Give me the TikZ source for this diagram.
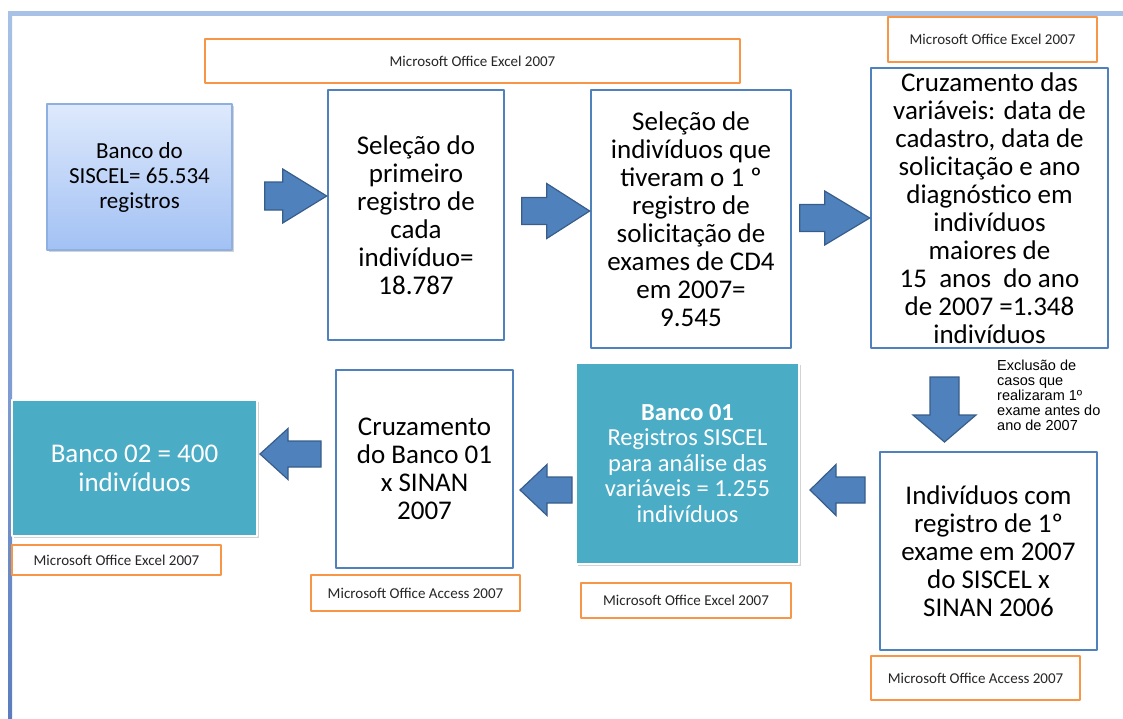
\documentclass[tikz,border=0pt]{standalone}
\usepackage{fontspec}
\setmainfont{Carlito}
\newfontfamily\arialfont{Liberation Sans}
\usetikzlibrary{shadows}
\definecolor{boxblue}{RGB}{79,129,189}
\definecolor{arrowline}{RGB}{56,93,138}
\definecolor{progorange}{RGB}{247,150,70}
\definecolor{bancoteal}{RGB}{75,172,198}
\definecolor{frametop}{RGB}{168,193,230}
\definecolor{frameleft}{RGB}{91,125,191}
\definecolor{siscelborder}{RGB}{141,176,224}
\definecolor{siscelup}{RGB}{222,233,252}
\definecolor{sisceldown}{RGB}{162,193,244}
\tikzset{
  stepbox/.style={draw=boxblue,line width=2.6pt,fill=white,align=center,inner sep=0pt,font=\fontsize{27}{28}\selectfont},
  bancobox/.style={fill=bancoteal,draw=white,line width=2pt,text=white,align=center,inner sep=0pt,
    drop shadow={shadow xshift=2pt,shadow yshift=-2pt,opacity=.35}},
  progbox/.style={draw=progorange,line width=2.8pt,fill=white,inner sep=0pt,text=black!85,font=\fontsize{15}{16}\selectfont},
  blockarrow/.style={fill=boxblue,draw=arrowline,line width=1.2pt,line join=miter}
}
% #1 rotation, #2 tip, #3 length, #4 head length, #5 head half width, #6 shaft half width
\newcommand{\blockarrow}[6][0]{%
  \draw[blockarrow,shift={#2},rotate=#1] (0,0) -- (-#4,#5) -- (-#4,#6) -- (-#3,#6)
    -- (-#3,-#6) -- (-#4,-#6) -- (-#4,-#5) -- cycle;}
\begin{document}
\begin{tikzpicture}[x=1pt,y=-1pt,line join=round]
\useasboundingbox (0,0) rectangle (1123,718);
% moldura
\fill[frametop] (8,11) rectangle (1123,16);
\shade[top color=frametop,bottom color=frameleft] (8,11) rectangle (12,718);
% linha de cima
\node[draw=siscelborder,line width=1.2pt,top color=siscelup,bottom color=sisceldown,align=center,inner sep=0pt,
  minimum width=185,minimum height=146,font=\fontsize{23}{25}\selectfont,
  drop shadow={shadow xshift=2pt,shadow yshift=-2pt,opacity=.35}] (siscel) at (139.5,177) {Banco do\\SISCEL= 65.534\\registros};
\node[stepbox,minimum width=176,minimum height=250] (primeiro) at (416,215) {Seleção do\\primeiro\\registro de\\cada\\indivíduo=\\18.787};
\node[stepbox,minimum width=200,minimum height=258] (cd4) at (691,219) {Seleção de\\indivíduos que\\tiveram o 1 º\\registro de\\solicitação de\\exames de CD4\\em 2007=\\9.545};
\node[stepbox,minimum width=237,minimum height=280] (cruza) at (989.5,208) {Cruzamento das\\variáveis: data de\\cadastro, data de\\solicitação e ano\\diagnóstico em\\indivíduos\\maiores de\\15\ \ anos\ \ do ano\\de 2007 =1.348\\indivíduos};
% linha de baixo
\node[stepbox,minimum width=217,minimum height=198] (sinan06) at (988.5,551) {Indivíduos com\\registro de 1º\\exame em 2007\\do SISCEL x\\SINAN 2006};
\node[bancobox,minimum width=223,minimum height=201,font=\fontsize{24.5}{25.5}\selectfont] (banco01) at (687.5,463.5) {\textbf{Banco 01}\\Registros SISCEL\\para análise das\\variáveis = 1.255\\indivíduos};
\node[stepbox,minimum width=177,minimum height=198] (sinan07) at (424.5,469) {Cruzamento\\do Banco 01\\x SINAN\\2007};
\node[bancobox,minimum width=245,minimum height=136,font=\fontsize{27}{29}\selectfont] (banco02) at (134.5,468) {Banco 02 = 400\\indivíduos};
% programas
\node[progbox,minimum width=535,minimum height=44] (excel1) at (472.5,61) {Microsoft Office Excel 2007};
\node[progbox,minimum width=209,minimum height=45] (excel2) at (992.5,39.5) {Microsoft Office Excel 2007};
\node[progbox,minimum width=209,minimum height=44] (access1) at (975.5,678) {Microsoft Office Access 2007};
\node[progbox,minimum width=210,minimum height=35] (excel3) at (686,600.5) {Microsoft Office Excel 2007};
\node[progbox,minimum width=209,minimum height=36] (access2) at (415.5,593) {Microsoft Office Access 2007};
\node[progbox,minimum width=209,minimum height=30] (excel4) at (116.5,560) {Microsoft Office Excel 2007};
\node[anchor=north west,align=left,inner sep=0pt,font=\arialfont\fontsize{14.5}{15}\selectfont] (exclusao) at (997,360)
  {Exclusão de\\casos que\\realizaram 1º\\exame antes do\\ano de 2007};
% setas
\blockarrow{(primeiro.west |- 0,196)}{62}{44}{27}{14}
\blockarrow{(cd4.west |- 0,211)}{68}{43}{27.5}{13.5}
\blockarrow{(cruza.west |- 0,218)}{70}{45}{27}{13.5}
\blockarrow[-90]{(944.5,442)}{65}{27}{31.5}{14.5}
\blockarrow[180]{(810,490)}{55}{26}{25.5}{13}
\blockarrow[180]{(520,490)}{52}{27}{25.5}{13}
\blockarrow[180]{(260,454)}{61}{28}{25.5}{13}
\end{tikzpicture}
\end{document}
